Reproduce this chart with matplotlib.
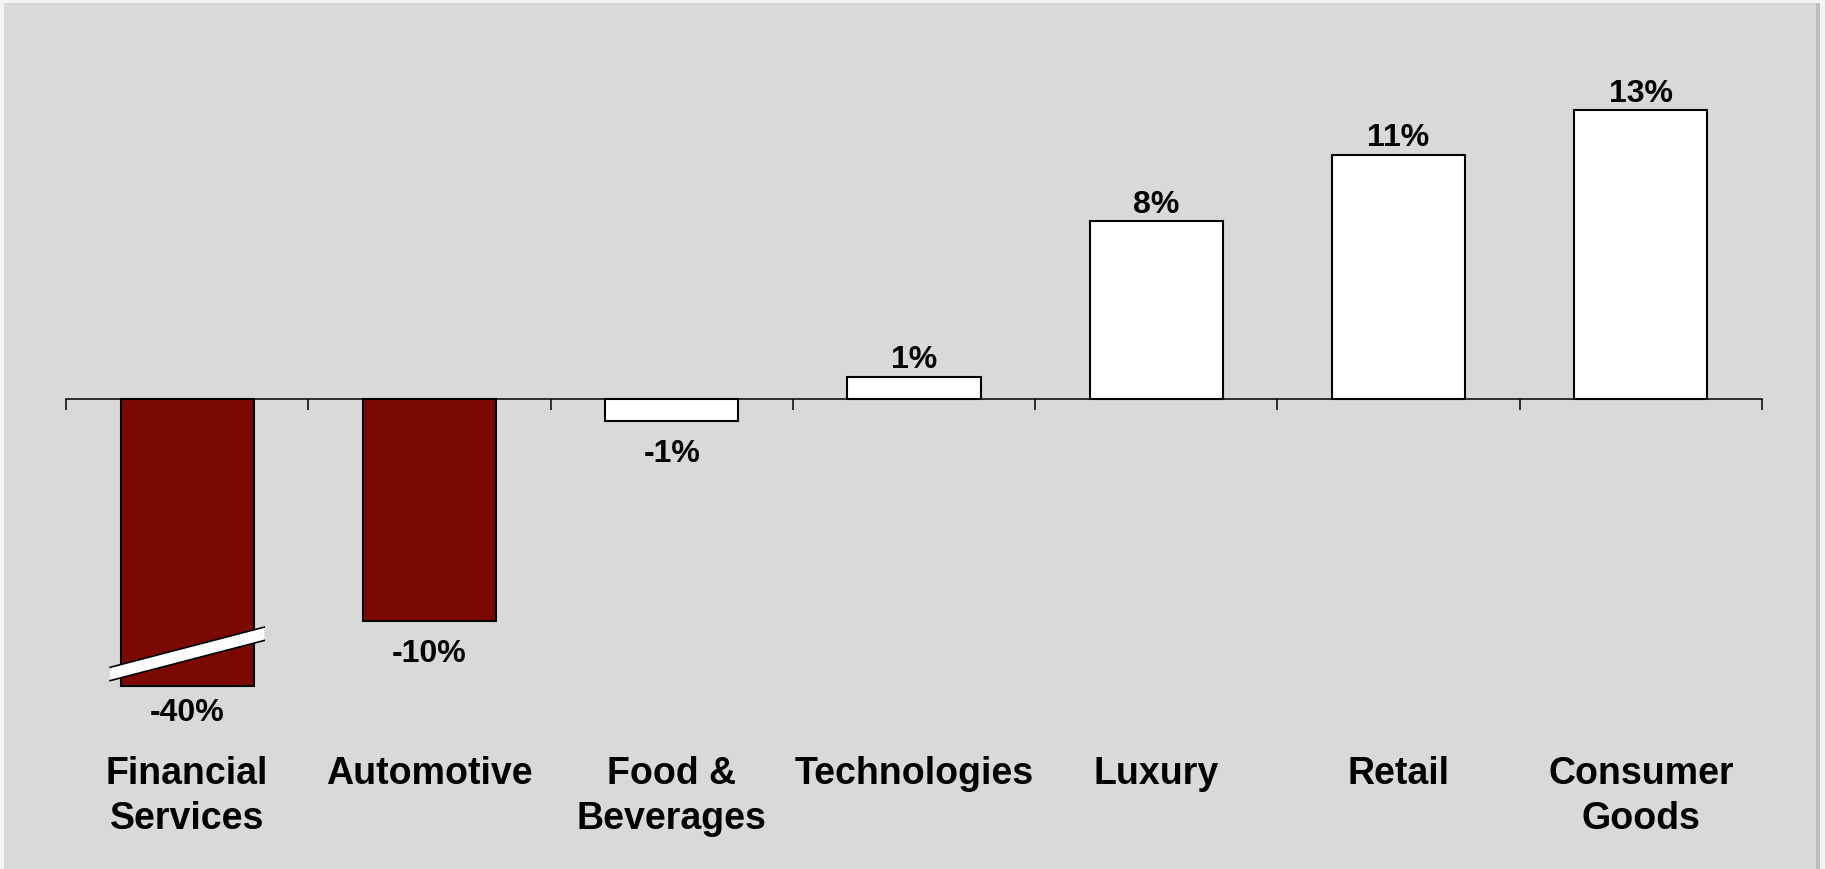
import matplotlib.pyplot as plt
from matplotlib.patches import Rectangle, Polygon

plt.rcParams['font.family'] = ['Liberation Sans', 'DejaVu Sans']

categories = ["Financial\nServices", "Automotive", "Food &\nBeverages",
              "Technologies", "Luxury", "Retail", "Consumer\nGoods"]
values = [-40, -10, -1, 1, 8, 11, 13]
labels = ["-40%", "-10%", "-1%", "1%", "8%", "11%", "13%"]
bar_colors = ["#7B0900", "#7B0900", "white", "white", "white", "white", "white"]

# the first bar is cut off, drawn to this depth with a break mark
display_floor = -12.93

bg = "#D9D9D9"
W, H = 1825, 870

fig = plt.figure(figsize=(W / 100, H / 100), dpi=100, facecolor="#F4F4F4")
# panel + soft shadow on the right
fig.patches.append(Rectangle((1814 / W, 0), 6 / W, 866 / H, transform=fig.transFigure,
                             facecolor="#BDBDBD", edgecolor="none", zorder=-2))
fig.patches.append(Rectangle((4 / W, 0), 1812 / W, 866 / H, transform=fig.transFigure,
                             facecolor=bg, edgecolor="none", zorder=-1))

ax = fig.add_axes([66 / W, (H - 750) / H, (1762 - 66) / W, 700 / H])
ax.set_facecolor("none")

shown = [max(v, display_floor) for v in values]
x = list(range(len(categories)))
ax.bar(x, shown, width=0.55, color=bar_colors, edgecolor="black", linewidth=1.5, zorder=2)

ax.set_xlim(-0.5, len(categories) - 0.5)
ax.set_ylim(-15.77, 15.77)

for s in ["top", "right", "left"]:
    ax.spines[s].set_visible(False)
ax.spines["bottom"].set_position(("data", 0))
ax.spines["bottom"].set_linewidth(1.1)
ax.spines["bottom"].set_zorder(3)
ax.set_yticks([])
ax.set_xticks([i - 0.5 for i in range(len(categories) + 1)])
ax.set_xticklabels([])
ax.tick_params(axis="x", direction="out", length=8, width=1.1, color="black")

# break mark on the truncated bar
y_l, y_r, half = -12.39, -10.58, 0.3
band = Polygon([(-0.318, y_l - half), (0.318, y_r - half),
                (0.318, y_r + half), (-0.318, y_l + half)],
               closed=True, facecolor="white", edgecolor="none", zorder=4)
ax.add_patch(band)
ax.plot([-0.318, 0.318], [y_l - half, y_r - half], color="black", lw=1.2, zorder=5)
ax.plot([-0.318, 0.318], [y_l + half, y_r + half], color="black", lw=1.2, zorder=5)

for xi, v, val, lab in zip(x, shown, values, labels):
    if v >= 0:
        ax.annotate(lab, (xi, v), xytext=(0, 2), textcoords="offset points",
                    ha="center", va="bottom", fontsize=23, fontweight="bold")
    else:
        off = -8 if val < display_floor else -12
        ax.annotate(lab, (xi, v), xytext=(0, off), textcoords="offset points",
                    ha="center", va="top", fontsize=23, fontweight="bold")

for xi, cat in zip(x, categories):
    ax.text(xi, -16.05, cat, ha="center", va="top", fontsize=27, fontweight="bold",
            linespacing=1.3, clip_on=False)

fig.savefig("out.png", dpi=100, facecolor=fig.get_facecolor())
